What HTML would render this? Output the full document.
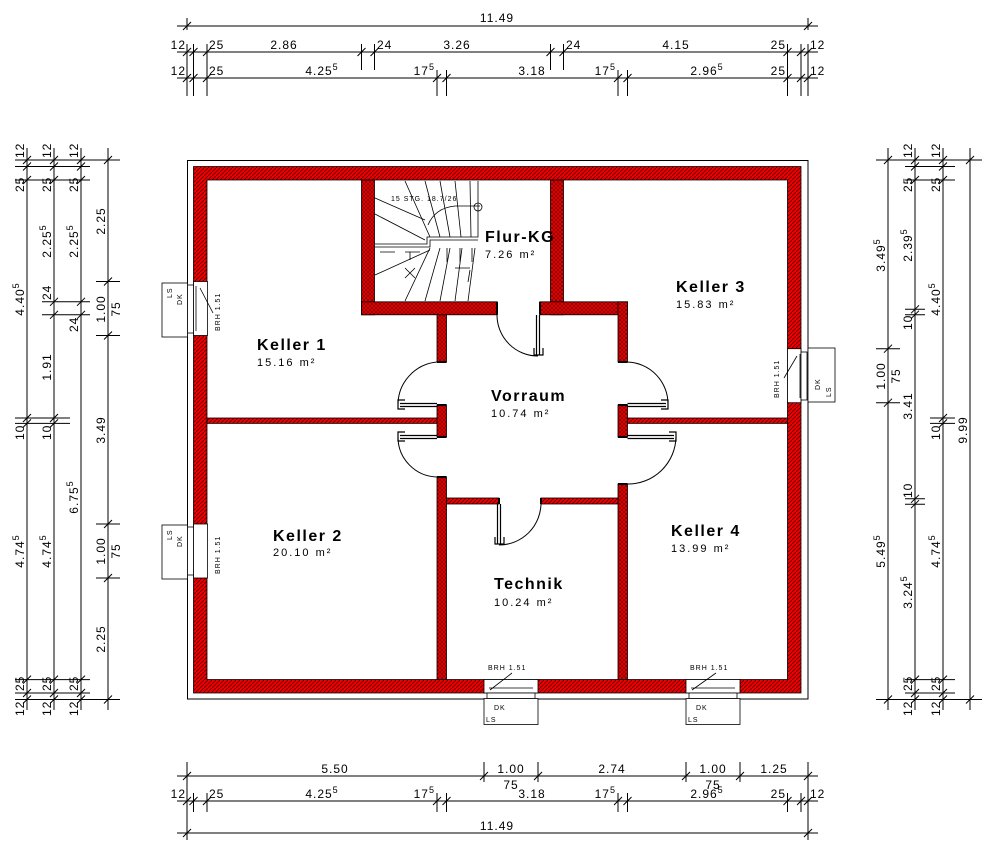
<!DOCTYPE html>
<html><head><meta charset="utf-8"><style>
body{margin:0;background:#fff;}
svg{display:block;font-family:"Liberation Sans",sans-serif;}
.d{font-size:12px;letter-spacing:1px;fill:#000;}
.r{font-size:16px;font-weight:bold;letter-spacing:1.5px;}
.a{font-size:11px;letter-spacing:2px;}
.s{font-size:7px;letter-spacing:1px;}
</style></head><body>
<svg width="1000" height="852" viewBox="0 0 1000 852" xmlns="http://www.w3.org/2000/svg">
<defs>
<pattern id="h1" width="4" height="4" patternUnits="userSpaceOnUse"><rect width="4" height="4" fill="#ee0000"/><path d="M-1,5 L5,-1" stroke="#5a0000" stroke-width="0.8"/></pattern>
<pattern id="h2" width="4" height="4" patternUnits="userSpaceOnUse"><rect width="4" height="4" fill="#e80000"/><path d="M0,4 L4,0 M0,0 L4,4" stroke="#6a0000" stroke-width="0.6"/></pattern>
</defs>
<rect width="1000" height="852" fill="#fff"/>
<rect x="187.5" y="160.5" width="620.5" height="538.5" fill="none" stroke="#000" stroke-width="1"/>
<path d="M193.5,166.5 H801 V693 H193.5 Z M207,180 V679.5 H787.5 V180 Z" fill="url(#h1)" fill-rule="evenodd" stroke="#000" stroke-width="0.8"/>
<g fill="url(#h2)" stroke="#000" stroke-width="0.8">
<rect x="361.5" y="180" width="13" height="134.8"/>
<rect x="361.5" y="301.8" width="135.5" height="13"/>
<rect x="550.5" y="180" width="13" height="134.8"/>
<rect x="540" y="301.8" width="87.5" height="13"/>
<rect x="437" y="314.8" width="9.5" height="47.2"/>
<rect x="437" y="405" width="9.5" height="32"/>
<rect x="437" y="477" width="9.5" height="202.5"/>
<rect x="618" y="301.8" width="9.5" height="60.2"/>
<rect x="618" y="405" width="9.5" height="32"/>
<rect x="618" y="484" width="9.5" height="195.5"/>
</g>
<g fill="url(#h1)" stroke="#000" stroke-width="0.8">
<rect x="207" y="418" width="230" height="5.4"/>
<rect x="627.5" y="418" width="160" height="5.4"/>
<rect x="446.5" y="498" width="52.5" height="6"/>
<rect x="541" y="498" width="77" height="6"/>
</g>
<rect x="375" y="181" width="175" height="120" fill="#fff"/>
<rect x="208" y="181" width="153" height="236" fill="#fff"/>
<rect x="208" y="424" width="228" height="255" fill="#fff"/>
<rect x="447" y="505" width="170" height="174" fill="#fff"/>
<rect x="628" y="424" width="159" height="255" fill="#fff"/>
<rect x="565" y="181" width="222" height="120" fill="#fff"/>
<rect x="628" y="302" width="159" height="115" fill="#fff"/>
<g stroke="#000" stroke-width="2">
<path d="M437,362 H446.5 M437,405 H446.5 M437,437 H446.5 M437,477 H446.5 M618,362 H627.5 M618,405 H627.5 M618,437 H627.5 M618,484 H627.5 M497,301.8 V314.8 M540,301.8 V314.8 M499,498 V504 M541,498 V504"/>
</g>
<g fill="none" stroke="#000" stroke-width="1">
<path d="M497,314.8 A41,41 0 0 0 538,356"/>
<path d="M398,405 A43,43 0 0 1 437,362"/>
<path d="M398,437 A40,40 0 0 0 437,477"/>
<path d="M668,405 A42,42 0 0 0 627.5,362"/>
<path d="M676,437 A48,48 0 0 1 627.5,484"/>
<path d="M499,545 A42,42 0 0 0 541,503"/>
</g>
<g stroke="#000" stroke-width="1.2" fill="none">
<path d="M536.5,315 V355 M539.5,315 V355 M534,348 V355 H543 V348"/>
<path d="M437,403.5 H400 M437,406.5 H400 M405,400 H398 V409 H405"/>
<path d="M437,435.5 H400 M437,438.5 H400 M405,432 H398 V441 H405"/>
<path d="M627.5,403.5 H666 M627.5,406.5 H666 M661,400 H668 V409 H661"/>
<path d="M627.5,435.5 H674 M627.5,438.5 H674 M669,432 H676 V441 H669"/>
<path d="M497.5,504 V544 M500.5,504 V544 M495,537 V544 H504 V537"/>
</g>
<g stroke="#000" stroke-width="0.8" fill="none">
<path d="M375,244 H427 V237 H478 V181"/>
<path d="M375,247 H430 V240 H478"/>
<path d="M405,181 L430,237 M425,181 L440,237 M440,181 L450,237 M455,181 L461,237 M470,181 L471,237"/>
<path d="M375,198 L425,220 M375,214 L425,240 M428,225 Q435,208 455,206 H480"/>
<path d="M430,248 L405,301 M440,248 L425,301 M450,248 L440,301 M462,248 L455,301 M475,248 L468,301 M430,250 L375,275"/>
<path d="M380,252 H395 M405,252 H420 M410,252 V260 M447,248 V262 M460,248 V262 M472,248 V262 M455,268 H470 M470,270 L468,282 M405,268 L415,278 M415,268 L405,278"/>
<circle cx="478" cy="207" r="4"/>
</g>
<text x="391" y="201" class="s">15 STG. 18.7/26</text>
<g fill="#fff" stroke="#000" stroke-width="0.8">
<rect x="193.5" y="281.5" width="14" height="54"/>
<rect x="193.5" y="524" width="14" height="54"/>
<rect x="187.5" y="285" width="6" height="48"/>
<rect x="187.5" y="527" width="6" height="48"/>
<rect x="162" y="283" width="25.5" height="54"/>
<rect x="162" y="525" width="25.5" height="54"/>
<rect x="787.5" y="348.7" width="13.5" height="54"/>
<rect x="801" y="352" width="6" height="48"/>
<rect x="808" y="348" width="27" height="54"/>
<rect x="484" y="679.5" width="54" height="13.5"/>
<rect x="686" y="679.5" width="54" height="13.5"/>
<rect x="487" y="693" width="48" height="5.5"/>
<rect x="689" y="693" width="48" height="5.5"/>
<rect x="484" y="698.5" width="54" height="26"/>
<rect x="686" y="698.5" width="54" height="26"/>
</g>
<g stroke="#000" stroke-width="0.8" fill="none">
<path d="M200,288 L213,313 M196,286 V331 M797,356 L784,378 M800,354 V398 M490,690 L512,673 M692,690 L716,673 M489,688 H533 M691,688 H735"/>
</g>
<g class="s" font-size="8">
<text transform="translate(220,331) rotate(-90)">BRH 1.51</text>
<text transform="translate(220,574) rotate(-90)">BRH 1.51</text>
<text transform="translate(779,398) rotate(-90)">BRH 1.51</text>
<text x="488" y="670">BRH 1.51</text>
<text x="690" y="670">BRH 1.51</text>
<text transform="translate(172,298) rotate(-90)">LS</text>
<text transform="translate(182,305) rotate(-90)">DK</text>
<text transform="translate(172,540) rotate(-90)">LS</text>
<text transform="translate(182,547) rotate(-90)">DK</text>
<text transform="translate(820,390) rotate(-90)">DK</text>
<text transform="translate(831,397) rotate(-90)">LS</text>
<text x="494" y="710">DK</text><text x="486" y="722">LS</text>
<text x="696" y="710">DK</text><text x="688" y="722">LS</text>
</g>
<g>
<text x="257" y="350" class="r">Keller 1</text><text x="257" y="366" class="a">15.16 m²</text>
<text x="485" y="242" class="r">Flur-KG</text><text x="485" y="258" class="a">7.26 m²</text>
<text x="676" y="292" class="r">Keller 3</text><text x="676" y="308" class="a">15.83 m²</text>
<text x="491" y="401" class="r">Vorraum</text><text x="491" y="417" class="a">10.74 m²</text>
<text x="273" y="541" class="r">Keller 2</text><text x="273" y="556" class="a">20.10 m²</text>
<text x="671" y="536" class="r">Keller 4</text><text x="671" y="552" class="a">13.99 m²</text>
<text x="494" y="589" class="r">Technik</text><text x="494" y="606" class="a">10.24 m²</text>
</g>
<g stroke="#000" stroke-width="1" fill="none">
<path d="M177,26 H818 M177,52 H818 M177,78 H818"/>
<path d="M187,18 V30 M808,18 V30 M183,30 L191,22 M804,30 L812,22"/>
<path d="M187,44 V96 M193.5,44 V96 M207,44 V96 M361.5,44 V70 M374.5,44 V70 M550.5,44 V70 M563.5,44 V70 M787.5,44 V96 M801,44 V96 M808,44 V96 M437,70 V96 M446.5,70 V96 M618,70 V96 M627.5,70 V96"/>
<path d="M183,56 l8,-8 M189.5,56 l8,-8 M203,56 l8,-8 M357.5,56 l8,-8 M370.5,56 l8,-8 M546.5,56 l8,-8 M559.5,56 l8,-8 M783.5,56 l8,-8 M797,56 l8,-8 M804,56 l8,-8"/>
<path d="M183,82 l8,-8 M189.5,82 l8,-8 M203,82 l8,-8 M433,82 l8,-8 M442.5,82 l8,-8 M614,82 l8,-8 M623.5,82 l8,-8 M783.5,82 l8,-8 M797,82 l8,-8 M804,82 l8,-8"/>
<path d="M177,776 H818 M177,801 H818 M177,833 H818"/>
<path d="M187,762 V840 M484,762 V782 M538,762 V782 M686,762 V782 M740,762 V782 M808,762 V840"/>
<path d="M183,780 l8,-8 M480,780 l8,-8 M534,780 l8,-8 M682,780 l8,-8 M736,780 l8,-8 M804,780 l8,-8"/>
<path d="M193.5,793 V812 M207,793 V812 M437,793 V812 M446.5,793 V812 M618,793 V812 M627.5,793 V812 M787.5,793 V812 M801,793 V812"/>
<path d="M183,805 l8,-8 M189.5,805 l8,-8 M203,805 l8,-8 M433,805 l8,-8 M442.5,805 l8,-8 M614,805 l8,-8 M623.5,805 l8,-8 M783.5,805 l8,-8 M797,805 l8,-8 M804,805 l8,-8 M183,837 l8,-8 M804,837 l8,-8"/>
<path d="M27,148 V710 M54,148 V710 M81,148 V710 M108,148 V710"/>
<path d="M15,160 H120 M15,166.5 H90 M15,180 H90 M15,418 H70 M15,423.4 H70 M42,301.8 H90 M42,314.8 H90 M15,679.6 H90 M15,693 H90 M15,699.5 H120 M96,281.5 H120 M96,335.5 H120 M96,524 H120 M96,578 H120"/>
<path d="M23,164 l8,-8 M23,170.5 l8,-8 M23,184 l8,-8 M23,422 l8,-8 M23,427.4 l8,-8 M23,683.6 l8,-8 M23,697 l8,-8 M23,703.5 l8,-8"/>
<path d="M50,164 l8,-8 M50,170.5 l8,-8 M50,184 l8,-8 M50,305.8 l8,-8 M50,318.8 l8,-8 M50,422 l8,-8 M50,427.4 l8,-8 M50,683.6 l8,-8 M50,697 l8,-8 M50,703.5 l8,-8"/>
<path d="M77,164 l8,-8 M77,170.5 l8,-8 M77,184 l8,-8 M77,305.8 l8,-8 M77,318.8 l8,-8 M77,683.6 l8,-8 M77,697 l8,-8 M77,703.5 l8,-8"/>
<path d="M104,164 l8,-8 M104,285.5 l8,-8 M104,339.5 l8,-8 M104,528 l8,-8 M104,582 l8,-8 M104,703.5 l8,-8"/>
<path d="M888,148 V710 M915,148 V710 M943,148 V710 M970,148 V710"/>
<path d="M876,160 H982 M905,166.5 H955 M905,180 H955 M876,348.7 H900 M876,402.7 H900 M905,309.3 H925 M905,314.7 H925 M905,498.8 H925 M905,504.2 H925 M930,418 H955 M930,423.4 H955 M905,679.6 H955 M905,693 H955 M876,699.5 H982"/>
<path d="M884,164 l8,-8 M884,352.7 l8,-8 M884,406.7 l8,-8 M884,703.5 l8,-8 M911,164 l8,-8 M911,170.5 l8,-8 M911,184 l8,-8 M911,313.3 l8,-8 M911,318.7 l8,-8 M911,502.8 l8,-8 M911,508.2 l8,-8 M911,683.6 l8,-8 M911,697 l8,-8 M911,703.5 l8,-8"/>
<path d="M939,164 l8,-8 M939,170.5 l8,-8 M939,184 l8,-8 M939,422 l8,-8 M939,427.4 l8,-8 M939,683.6 l8,-8 M939,697 l8,-8 M939,703.5 l8,-8 M966,164 l8,-8 M966,703.5 l8,-8"/>
</g>
<g class="d">
<text x="497" y="22" text-anchor="middle">11.49</text>
<text x="186" y="49" text-anchor="end">12</text><text x="209" y="49">25</text><text x="284" y="49" text-anchor="middle">2.86</text><text x="377" y="49">24</text><text x="457" y="49" text-anchor="middle">3.26</text><text x="566" y="49">24</text><text x="676" y="49" text-anchor="middle">4.15</text><text x="786" y="49" text-anchor="end">25</text><text x="810" y="49">12</text>
<text x="186" y="75" text-anchor="end">12</text><text x="209" y="75">25</text><text x="322" y="75" text-anchor="middle">4.25<tspan dy="-5" font-size="9">5</tspan></text><text x="435" y="75" text-anchor="end">17<tspan dy="-5" font-size="9">5</tspan></text><text x="532" y="75" text-anchor="middle">3.18</text><text x="616" y="75" text-anchor="end">17<tspan dy="-5" font-size="9">5</tspan></text><text x="707" y="75" text-anchor="middle">2.96<tspan dy="-5" font-size="9">5</tspan></text><text x="786" y="75" text-anchor="end">25</text><text x="810" y="75">12</text>
<text x="335" y="773" text-anchor="middle">5.50</text><text x="511" y="773" text-anchor="middle">1.00</text><text x="511" y="789" text-anchor="middle">75</text><text x="612" y="773" text-anchor="middle">2.74</text><text x="713" y="773" text-anchor="middle">1.00</text><text x="713" y="789" text-anchor="middle">75</text><text x="774" y="773" text-anchor="middle">1.25</text>
<text x="186" y="798" text-anchor="end">12</text><text x="209" y="798">25</text><text x="322" y="798" text-anchor="middle">4.25<tspan dy="-5" font-size="9">5</tspan></text><text x="435" y="798" text-anchor="end">17<tspan dy="-5" font-size="9">5</tspan></text><text x="532" y="798" text-anchor="middle">3.18</text><text x="616" y="798" text-anchor="end">17<tspan dy="-5" font-size="9">5</tspan></text><text x="707" y="798" text-anchor="middle">2.96<tspan dy="-5" font-size="9">5</tspan></text><text x="786" y="798" text-anchor="end">25</text><text x="810" y="798">12</text>
<text x="497" y="830" text-anchor="middle">11.49</text>
</g>
<g class="d">
<text transform="translate(24,158) rotate(-90)">12</text>
<text transform="translate(24,192) rotate(-90)">25</text>
<text transform="translate(24,299) rotate(-90)" text-anchor="middle">4.40<tspan dy="-5" font-size="9">5</tspan></text>
<text transform="translate(24,440) rotate(-90)">10</text>
<text transform="translate(24,551) rotate(-90)" text-anchor="middle">4.74<tspan dy="-5" font-size="9">5</tspan></text>
<text transform="translate(24,691) rotate(-90)">25</text>
<text transform="translate(24,716) rotate(-90)">12</text>
<text transform="translate(51,158) rotate(-90)">12</text>
<text transform="translate(51,192) rotate(-90)">25</text>
<text transform="translate(51,241) rotate(-90)" text-anchor="middle">2.25<tspan dy="-5" font-size="9">5</tspan></text>
<text transform="translate(51,300) rotate(-90)">24</text>
<text transform="translate(51,367) rotate(-90)" text-anchor="middle">1.91</text>
<text transform="translate(51,440) rotate(-90)">10</text>
<text transform="translate(51,551) rotate(-90)" text-anchor="middle">4.74<tspan dy="-5" font-size="9">5</tspan></text>
<text transform="translate(51,691) rotate(-90)">25</text>
<text transform="translate(51,716) rotate(-90)">12</text>
<text transform="translate(78,158) rotate(-90)">12</text>
<text transform="translate(78,192) rotate(-90)">25</text>
<text transform="translate(78,241) rotate(-90)" text-anchor="middle">2.25<tspan dy="-5" font-size="9">5</tspan></text>
<text transform="translate(78,332) rotate(-90)">24</text>
<text transform="translate(78,497) rotate(-90)" text-anchor="middle">6.75<tspan dy="-5" font-size="9">5</tspan></text>
<text transform="translate(78,691) rotate(-90)">25</text>
<text transform="translate(78,716) rotate(-90)">12</text>
<text transform="translate(105,221) rotate(-90)" text-anchor="middle">2.25</text>
<text transform="translate(105,309) rotate(-90)" text-anchor="middle">1.00</text>
<text transform="translate(120,309) rotate(-90)" text-anchor="middle">75</text>
<text transform="translate(105,430) rotate(-90)" text-anchor="middle">3.49</text>
<text transform="translate(105,551) rotate(-90)" text-anchor="middle">1.00</text>
<text transform="translate(120,551) rotate(-90)" text-anchor="middle">75</text>
<text transform="translate(105,639) rotate(-90)" text-anchor="middle">2.25</text>
<text transform="translate(885,255) rotate(-90)" text-anchor="middle">3.49<tspan dy="-5" font-size="9">5</tspan></text>
<text transform="translate(885,376) rotate(-90)" text-anchor="middle">1.00</text>
<text transform="translate(900,376) rotate(-90)" text-anchor="middle">75</text>
<text transform="translate(885,551) rotate(-90)" text-anchor="middle">5.49<tspan dy="-5" font-size="9">5</tspan></text>
<text transform="translate(912,158) rotate(-90)">12</text>
<text transform="translate(912,192) rotate(-90)">25</text>
<text transform="translate(912,245) rotate(-90)" text-anchor="middle">2.39<tspan dy="-5" font-size="9">5</tspan></text>
<text transform="translate(912,330) rotate(-90)">10</text>
<text transform="translate(912,406) rotate(-90)" text-anchor="middle">3.41</text>
<text transform="translate(912,498) rotate(-90)">10</text>
<text transform="translate(912,592) rotate(-90)" text-anchor="middle">3.24<tspan dy="-5" font-size="9">5</tspan></text>
<text transform="translate(912,691) rotate(-90)">25</text>
<text transform="translate(912,716) rotate(-90)">12</text>
<text transform="translate(940,158) rotate(-90)">12</text>
<text transform="translate(940,192) rotate(-90)">25</text>
<text transform="translate(940,299) rotate(-90)" text-anchor="middle">4.40<tspan dy="-5" font-size="9">5</tspan></text>
<text transform="translate(940,440) rotate(-90)">10</text>
<text transform="translate(940,551) rotate(-90)" text-anchor="middle">4.74<tspan dy="-5" font-size="9">5</tspan></text>
<text transform="translate(940,691) rotate(-90)">25</text>
<text transform="translate(940,716) rotate(-90)">12</text>
<text transform="translate(967,430) rotate(-90)" text-anchor="middle">9.99</text>
</g>
</svg>
</body></html>
